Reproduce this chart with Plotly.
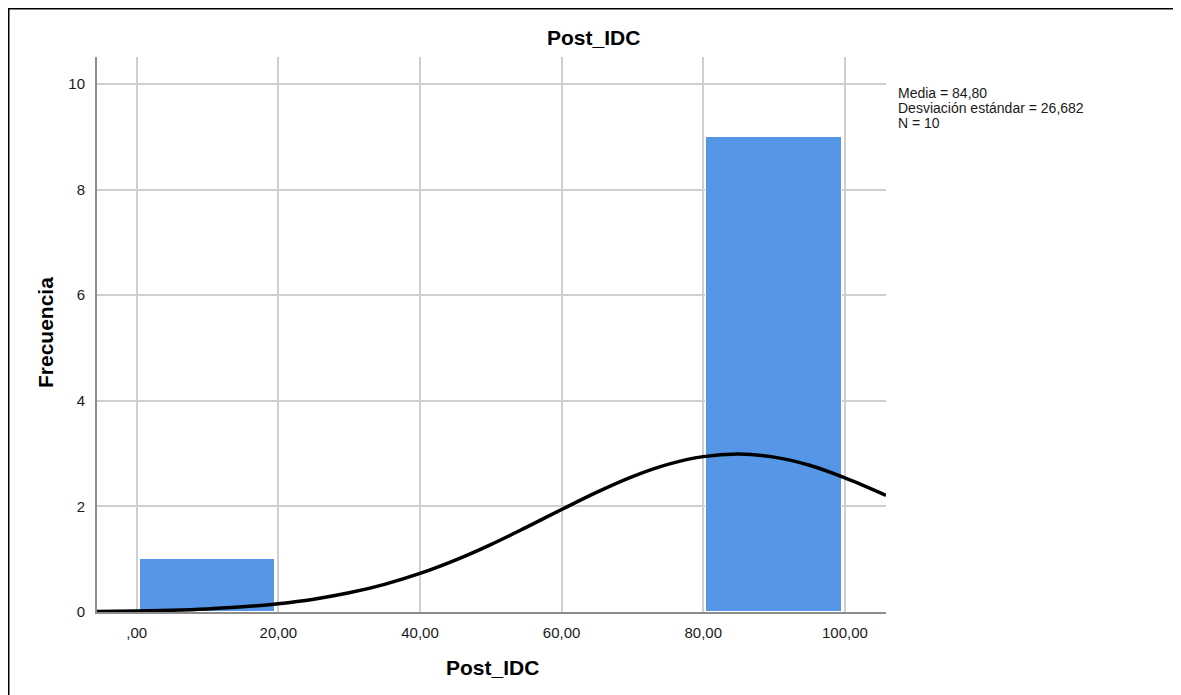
import plotly.graph_objects as go

# Histogram data
bin_centers = [10, 30, 50, 70, 90]
counts = [1, 0, 0, 0, 9]
bar_width = 19.2

# Normal curve points
curve_x = [-5.6, 0, 5, 10, 15, 20, 25, 30, 35, 40, 45, 50, 55, 60, 65, 70, 75, 80, 85, 90, 95, 100, 105.8]
curve_y = [0.011, 0.019, 0.034, 0.059, 0.098, 0.157, 0.243, 0.363, 0.524, 0.730, 0.983, 1.277,
           1.603, 1.941, 2.270, 2.564, 2.795, 2.942, 2.990, 2.933, 2.779, 2.541, 2.21]

x_ticks = [0, 20, 40, 60, 80, 100]
x_tick_labels = [",00", "20,00", "40,00", "60,00", "80,00", "100,00"]
y_ticks = [0, 2, 4, 6, 8, 10]

stats_lines = ["Media = 84,80", "Desviación estándar = 26,682", "N = 10"]

FONT = "Liberation Sans, Arial, sans-serif"

# page body has an 8px margin; target positions below are page pixels
OFF = 8
W, H = 1181 - OFF, 695 - OFF
L = 97 - OFF
T = 57 - OFF
BOTTOM = 612 - OFF
RIGHT = 886 - OFF
B = H - BOTTOM
R = W - RIGHT
pw, ph = W - L - R, H - T - B


def px(xp):
    return (xp - OFF - L) / pw


def py(yp):
    return (BOTTOM - (yp - OFF)) / ph


fig = go.Figure()
fig.add_trace(go.Bar(
    x=bin_centers, y=counts, width=bar_width,
    marker=dict(color="#5596E6", line=dict(color="#ffffff", width=1)),
    hoverinfo="skip", showlegend=False,
))
fig.add_trace(go.Scatter(
    x=curve_x, y=curve_y, mode="lines",
    line=dict(color="#000000", width=3.5, shape="spline"),
    hoverinfo="skip", showlegend=False,
))

fig.update_layout(
    width=W, height=H,
    margin=dict(l=L, r=R, t=T, b=B, pad=0),
    paper_bgcolor="white", plot_bgcolor="white",
    font=dict(family=FONT, size=15, color="#1a1a1a"),
    bargap=0,
    xaxis=dict(
        range=[-5.6, 105.8], tickvals=x_ticks, ticktext=x_tick_labels,
        showgrid=True, gridcolor="#cfcfcf", gridwidth=1.5,
        showline=True, linecolor="#8c8c8c", linewidth=2,
        zeroline=False, ticks="", ticklabelstandoff=6,
        tickfont=dict(size=15, color="#1a1a1a"),
    ),
    yaxis=dict(
        range=[0, 10.51], tickvals=y_ticks,
        showgrid=True, gridcolor="#cfcfcf", gridwidth=1.5,
        showline=True, linecolor="#8c8c8c", linewidth=2,
        zeroline=False, ticks="", ticklabelstandoff=7,
        tickfont=dict(size=15, color="#1a1a1a"),
    ),
)

annotations = [
    dict(text="<b>Post_IDC</b>", x=px(593), y=py(38), xref="paper", yref="paper",
         showarrow=False, xanchor="center", yanchor="middle",
         font=dict(family=FONT, size=21, color="#000000")),
    dict(text="<b>Post_IDC</b>", x=px(492), y=py(667), xref="paper", yref="paper",
         showarrow=False, xanchor="center", yanchor="middle",
         font=dict(family=FONT, size=21, color="#000000")),
    dict(text="<b>Frecuencia</b>", x=px(45), y=py(333), xref="paper", yref="paper",
         showarrow=False, xanchor="center", yanchor="middle", textangle=-90,
         font=dict(family=FONT, size=21, color="#000000")),
]
for i, line in enumerate(stats_lines):
    annotations.append(dict(
        text=line, x=px(896), y=py(93 + 15 * i), xref="paper", yref="paper",
        showarrow=False, xanchor="left", yanchor="middle",
        font=dict(family=FONT, size=14, color="#1a1a1a"),
    ))
fig.update_layout(annotations=annotations)

# outer frame of the exported image
shapes = [
    dict(type="line", xref="paper", yref="paper", x0=px(8), x1=px(8), y0=py(8), y1=py(710),
         line=dict(color="#000000", width=3)),
    dict(type="line", xref="paper", yref="paper", x0=px(8), x1=px(1200), y0=py(8), y1=py(8),
         line=dict(color="#000000", width=3)),
    dict(type="line", xref="paper", yref="paper", x0=px(1180), x1=px(1180), y0=py(8), y1=py(710),
         line=dict(color="#c8c8c8", width=1.5)),
]
fig.update_layout(shapes=shapes)

fig.write_html("out.html")
